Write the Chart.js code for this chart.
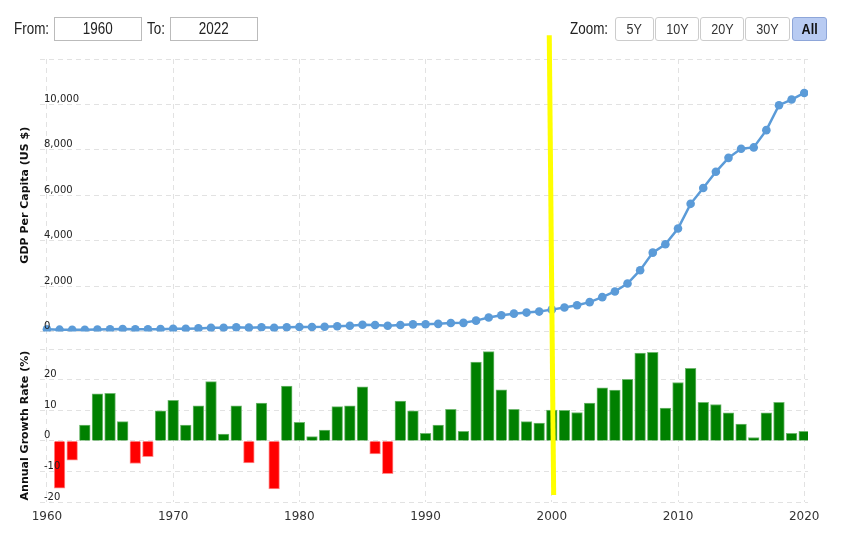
<!DOCTYPE html>
<html>
<head>
<meta charset="utf-8">
<script src="https://cdn.jsdelivr.net/npm/chart.js@4.4.0/dist/chart.umd.min.js"></script>
<style>
  body { margin: 0; background: #fff; overflow: hidden; }
  #wrap { position: relative; width: 848px; height: 540px; font-family: "Liberation Sans", Arial, sans-serif; color: #222; }
  #chart { position: absolute; left: 0; top: 0; }
  .lbl { position: absolute; top: 18px; font-size: 16px; line-height: 22px; }
  .box { position: absolute; top: 17px; height: 22px; border: 1px solid #bbb; text-align: center; font-size: 16px; line-height: 22px; box-sizing: content-box; }
  .btn { position: absolute; top: 17px; height: 24px; border: 1px solid #ccc; border-radius: 3px; text-align: center; font-size: 15px; line-height: 22px; background: #fff; color: #333; box-sizing: border-box; }
  .btn.on { background: #b8cbf2; border-color: #8ea6d9; font-weight: bold; color: #111; }
  .n { display: inline-block; transform: scaleX(0.84); }
  .lbl .n { transform-origin: left center; }
</style>
</head>
<body>
<div id="wrap">
  <canvas id="chart" width="848" height="540"></canvas>
  <div class="lbl" style="left:14px"><span class="n">From:</span></div>
  <div class="box" style="left:54px;width:86px"><span class="n">1960</span></div>
  <div class="lbl" style="left:147px"><span class="n">To:</span></div>
  <div class="box" style="left:170px;width:86px"><span class="n">2022</span></div>
  <div class="lbl" style="left:570px"><span class="n">Zoom:</span></div>
  <div class="btn" style="left:615px;width:39px"><span class="n">5Y</span></div>
  <div class="btn" style="left:655px;width:44px"><span class="n">10Y</span></div>
  <div class="btn" style="left:700px;width:44px"><span class="n">20Y</span></div>
  <div class="btn" style="left:745px;width:45px"><span class="n">30Y</span></div>
  <div class="btn on" style="left:792px;width:35px"><span class="n">All</span></div>
</div>
<script>
// GDP per capita (US $) and its annual growth
const years = [1960, 1961, 1962, 1963, 1964, 1965, 1966, 1967, 1968, 1969,
  1970, 1971, 1972, 1973, 1974, 1975, 1976, 1977, 1978, 1979,
  1980, 1981, 1982, 1983, 1984, 1985, 1986, 1987, 1988, 1989,
  1990, 1991, 1992, 1993, 1994, 1995, 1996, 1997, 1998, 1999,
  2000, 2001, 2002, 2003, 2004, 2005, 2006, 2007, 2008, 2009,
  2010, 2011, 2012, 2013, 2014, 2015, 2016, 2017, 2018, 2019, 2020];
const gdpPerCapita = [90, 76, 71, 74, 85, 98, 104, 97, 92, 100,
  113, 119, 132, 157, 160, 178, 165, 185, 156, 184,
  195, 197, 203, 225, 251, 294, 282, 252, 284, 311,
  318, 333, 367, 377, 474, 610, 709, 782, 829, 873,
  959, 1053, 1149, 1289, 1509, 1760, 2110, 2697, 3470, 3838,
  4530, 5620, 6320, 7030, 7645, 8044, 8105, 8866, 9965, 10215, 10505];
const growthYears = [1961, 1962, 1963, 1964, 1965, 1966, 1967, 1968, 1969,
  1970, 1971, 1972, 1973, 1974, 1975, 1976, 1977, 1978, 1979,
  1980, 1981, 1982, 1983, 1984, 1985, 1986, 1987, 1988, 1989,
  1990, 1991, 1992, 1993, 1994, 1995, 1996, 1997, 1998, 1999,
  2000, 2001, 2002, 2003, 2004, 2005, 2006, 2007, 2008, 2009,
  2010, 2011, 2012, 2013, 2014, 2015, 2016, 2017, 2018, 2019, 2020];
const growthRate = [-15.5, -6.3, 5.2, 15.4, 15.6, 6.3, -7.4, -5.2, 9.8,
  13.3, 5.2, 11.5, 19.4, 2.2, 11.5, -7.2, 12.4, -15.7, 17.9,
  6.1, 1.4, 3.5, 11.2, 11.5, 17.7, -4.3, -10.7, 13.0, 9.8,
  2.5, 5.2, 10.3, 3.1, 25.8, 29.2, 16.7, 10.3, 6.3, 5.8,
  10.1, 10.0, 9.3, 12.4, 17.4, 16.6, 20.1, 28.7, 29.0, 10.7,
  19.1, 23.7, 12.6, 11.9, 9.2, 5.5, 1.1, 9.2, 12.6, 2.5, 3.1];
const xTicks = [1960, 1970, 1980, 1990, 2000, 2010, 2020];
const gdpTicks = [0, 2000, 4000, 6000, 8000, 10000, 12000];
const growthTicks = [-20, -10, 0, 10, 20, 30];

// yellow marker, in data units
const markerTop = { year: 1999.8, gdp: 13050 };
const markerBottom = { year: 2000.15, growth: -17.7 };

const gridColor = '#e2e2e2';
const tickFont = { family: 'DejaVu Sans', size: 10 };
const titleFont = { family: 'DejaVu Sans', size: 11, weight: 'bold' };

const yellowLine = {
  id: 'yellowLine',
  afterDraw(chart) {
    const { x, y, y2 } = chart.scales;
    const c = chart.ctx;
    c.save();
    c.strokeStyle = '#ffff00';
    c.lineWidth = 5;
    c.beginPath();
    c.moveTo(x.getPixelForValue(markerTop.year), y.getPixelForValue(markerTop.gdp));
    c.lineTo(x.getPixelForValue(markerBottom.year), y2.getPixelForValue(markerBottom.growth));
    c.stroke();
    c.restore();
  }
};

const ctx = document.getElementById('chart').getContext('2d');
const chart = new Chart(ctx, {
  data: {
    datasets: [{
      type: 'line',
      label: 'GDP Per Capita',
      data: years.map((yr, i) => ({ x: yr, y: gdpPerCapita[i] })),
      xAxisID: 'x',
      yAxisID: 'y',
      borderColor: '#5b9bd8',
      backgroundColor: '#5b9bd8',
      borderWidth: 2.5,
      pointRadius: 4.3,
      pointBorderWidth: 0,
      tension: 0
    }, {
      type: 'bar',
      label: 'Annual Growth Rate',
      data: growthYears.map((yr, i) => ({ x: yr, y: growthRate[i] })),
      xAxisID: 'x',
      yAxisID: 'y2',
      backgroundColor: growthRate.map(v => v < 0 ? '#ff0000' : '#008000'),
      borderColor: growthRate.map(v => v < 0 ? '#ff8c8c' : '#6fb86f'),
      borderWidth: 1,
      barThickness: 10.7
    }]
  },
  options: {
    responsive: false,
    animation: false,
    layout: { padding: { top: 59, right: 40, bottom: 0, left: 0 } },
    plugins: {
      legend: { display: false },
      tooltip: { enabled: false }
    },
    scales: {
      x: {
        type: 'linear',
        offset: false,
        min: 1959.45,
        max: 2020.3,
        afterBuildTicks: s => { s.ticks = xTicks.map(v => ({ value: v })); },
        afterFit: s => { s.height = 38; },
        ticks: {
          callback: v => String(v),
          font: { family: 'DejaVu Sans', size: 12 },
          color: '#333',
          padding: 8,
          maxRotation: 0,
          autoSkip: false
        },
        grid: { color: gridColor, drawTicks: false, offset: false },
        border: { display: false, dash: [5, 4] }
      },
      y2: {
        type: 'linear',
        position: 'left',
        stack: 'v',
        stackWeight: 152.8,
        min: -20,
        max: 30,
        afterBuildTicks: s => { s.ticks = growthTicks.map(v => ({ value: v })); },
        afterFit: s => { s.width = 40; },
        ticks: {
          z: 1,
          mirror: true,
          padding: 4,
          labelOffset: -5,
          font: tickFont,
          color: '#222',
          callback: v => v === 30 ? '' : String(v)
        },
        title: {
          display: true,
          text: 'Annual Growth Rate (%)',
          font: titleFont,
          color: '#111',
          padding: { top: 19, bottom: 0 }
        },
        grid: { color: gridColor, drawTicks: false },
        border: { display: false, dash: [5, 4] }
      },
      gap: {
        type: 'linear',
        position: 'left',
        stack: 'v',
        stackWeight: 17.8,
        min: 0,
        max: 1,
        afterFit: s => { s.width = 40; },
        ticks: { display: false },
        grid: { display: false },
        border: { display: false }
      },
      y: {
        type: 'linear',
        position: 'left',
        stack: 'v',
        stackWeight: 272.4,
        min: 0,
        max: 12000,
        afterBuildTicks: s => { s.ticks = gdpTicks.map(v => ({ value: v })); },
        afterFit: s => { s.width = 40; },
        ticks: {
          z: 1,
          mirror: true,
          padding: 4,
          labelOffset: -5,
          font: tickFont,
          color: '#222',
          callback: v => v === 12000 ? '' : v.toLocaleString('en-US')
        },
        title: {
          display: true,
          text: 'GDP Per Capita (US $)',
          font: titleFont,
          color: '#111',
          padding: { top: 19, bottom: 0 }
        },
        grid: { color: gridColor, drawTicks: false },
        border: { display: false, dash: [5, 4] }
      }
    }
  },
  plugins: [yellowLine]
});
</script>
</body>
</html>
